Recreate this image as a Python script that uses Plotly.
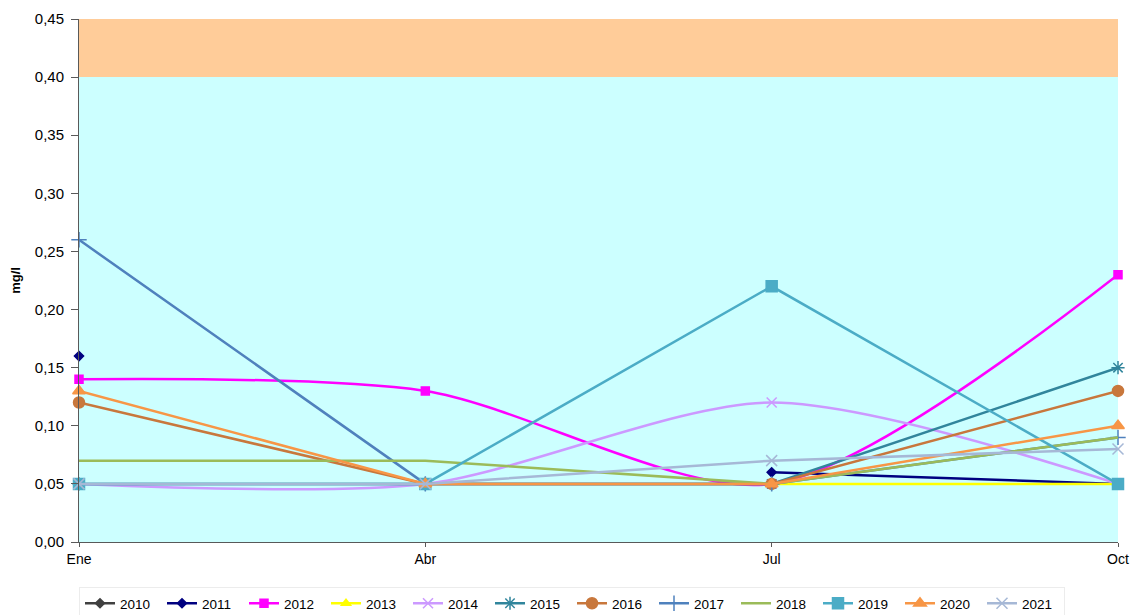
import plotly.graph_objects as go

# Quarterly sampling months
months = ["Ene", "Abr", "Jul", "Oct"]

# Concentration (mg/l) per year; None = no sample
v2010 = [None, None, None, None]
v2011 = [0.16, None, 0.06, 0.05]
v2012 = [0.14, 0.13, 0.05, 0.23]
v2013 = [None, None, 0.05, 0.05]
v2014 = [0.05, 0.05, 0.12, 0.05]
v2015 = [0.05, 0.05, 0.05, 0.15]
v2016 = [0.12, 0.05, 0.05, 0.13]
v2017 = [0.26, 0.05, 0.05, 0.09]
v2018 = [0.07, 0.07, 0.05, 0.09]
v2019 = [0.05, 0.05, 0.22, 0.05]
v2020 = [0.13, 0.05, 0.05, 0.10]
v2021 = [0.05, 0.05, 0.07, 0.08]

y_ticks = [0, 0.05, 0.10, 0.15, 0.20, 0.25, 0.30, 0.35, 0.40, 0.45]

series = [
    ("2010", v2010, "#404040", "diamond", 7, "linear"),
    ("2011", v2011, "#000080", "diamond", 7, "linear"),
    ("2012", v2012, "#ff00ff", "square", 8, "spline"),
    ("2013", v2013, "#ffff00", "triangle-up", 8, "linear"),
    ("2014", v2014, "#cc99ff", "x-thin-open", 10, "spline"),
    ("2015", v2015, "#31859c", "asterisk-open", 11, "linear"),
    ("2016", v2016, "#c8773c", "circle", 11, "linear"),
    ("2017", v2017, "#4f81bd", "cross-thin-open", 11, "linear"),
    ("2018", v2018, "#9bbb59", None, 0, "linear"),
    ("2019", v2019, "#4bacc6", "square", 11, "linear"),
    ("2020", v2020, "#f79646", "triangle-up", 11, "linear"),
    ("2021", v2021, "#a6b8d6", "x-thin-open", 11, "linear"),
]

x = list(range(len(months)))

fig = go.Figure()
for name, vals, color, sym, size, shape in series:
    mode = "lines+markers" if sym else "lines"
    marker = dict(color=color, symbol=sym, size=size,
                  line=dict(color=color, width=1.5)) if sym else None
    fig.add_trace(go.Scatter(
        x=x, y=vals, name=name, mode=mode,
        line=dict(color=color, width=2.5, shape=shape, smoothing=0.8),
        marker=marker, cliponaxis=False, connectgaps=False,
    ))

# Background bands: acceptable range and upper band
fig.add_shape(type="rect", xref="paper", yref="y", x0=0, x1=1, y0=0, y1=0.40,
              fillcolor="#ccffff", line_width=0, layer="below")
fig.add_shape(type="rect", xref="paper", yref="y", x0=0, x1=1, y0=0.40, y1=0.45,
              fillcolor="#ffcc99", line_width=0, layer="below")

fig.update_layout(
    width=1137, height=615,
    margin=dict(l=79, r=19, t=19, b=73, autoexpand=False),
    paper_bgcolor="white", plot_bgcolor="white",
    separators=",.",
    font=dict(family="Liberation Sans, Arial, sans-serif", size=14, color="#000000"),
    showlegend=True,
    legend=dict(
        orientation="h", x=0.0, xanchor="left", y=-0.086, yanchor="top",
        bordercolor="#ececec", borderwidth=1, bgcolor="white",
        font=dict(size=13.5), entrywidth=37, entrywidthmode="pixels",
        itemwidth=30, tracegroupgap=0,
    ),
    xaxis=dict(
        tickmode="array", tickvals=x, ticktext=months, range=[0, 3],
        showgrid=False, zeroline=False, showline=True, linecolor="#595959",
        ticks="outside", ticklen=4, tickcolor="#595959",
    ),
    yaxis=dict(
        range=[0, 0.45], tickvals=y_ticks, tickformat=".2f",
        showgrid=False, zeroline=False, showline=True, linecolor="#595959",
        ticks="outside", ticklen=7, tickcolor="#595959",
        tickfont=dict(size=15), ticklabelstandoff=4,
        title=dict(text="<b>mg/l</b>", font=dict(size=13), standoff=11),
    ),
)

fig.write_html("out.html")
